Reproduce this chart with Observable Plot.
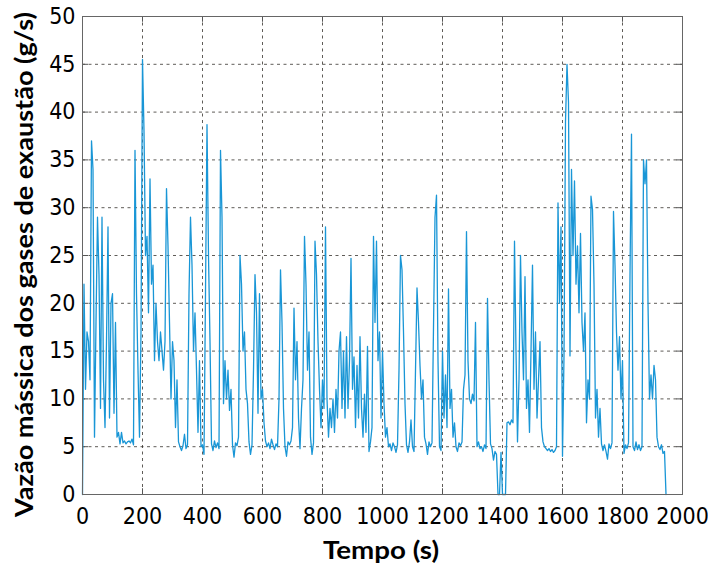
<!DOCTYPE html>
<html><head><meta charset="utf-8">
<script src="https://cdn.jsdelivr.net/npm/d3@7"></script>
<script src="https://cdn.jsdelivr.net/npm/@observablehq/plot@0.6"></script>
<style>html,body{margin:0;padding:0;background:#fff} #chart svg{display:block}</style>
</head><body><div id="chart"></div><script>
// Amostragem a cada 5 s (t = 0, 5, 10, ... s)
const passo = 5;
const vazao = [
  0, 22, 11, 17, 16, 12, 37, 34, 6, 18, 29, 23, 9, 29, 12, 7, 16, 28, 8, 20,
  21, 8.5, 18, 6, 6.5, 5.3, 6.5, 5.4, 5.6, 5.3, 5.5, 5.6, 5.4, 5.8, 5.2, 36, 21, 13, 6, 17,
  45.5, 38, 25, 27, 19, 33, 22, 24, 14, 20, 16, 14, 17, 15, 13, 16, 32, 26, 18, 10,
  16, 14, 7, 12, 5.5, 5.0, 4.6, 5.1, 6.3, 4.8, 5.2, 21, 29, 24, 15, 19, 13, 6.5, 14, 5.0,
  5.2, 4.2, 21, 38.7, 25, 16, 5.3, 4.6, 5.6, 4.9, 5.4, 4.8, 36, 29, 9.5, 14, 10, 13, 8.8, 11,
  5.2, 3.9, 5.4, 5.1, 6, 25, 22, 15, 17, 11, 9.5, 5.5, 4.2, 5.2, 13, 23, 19, 8.5, 21, 10,
  11, 7.5, 5.6, 5.0, 5.4, 4.8, 5.8, 5.2, 4.7, 5.3, 5.0, 10, 23.5, 18, 9, 5.0, 4.0, 5.5, 5.2, 5.6,
  7, 19.5, 12, 16, 8, 4.8, 9, 12, 27, 22, 13, 17, 6, 4.2, 5.4, 26.5, 23, 16, 11, 7,
  12, 9, 28, 10, 6, 9, 7, 10, 6.5, 11, 8, 15, 17, 9, 15, 8, 16.5, 9, 14, 24.7,
  11, 14.4, 7, 13.5, 8, 16.5, 9, 6, 10.5, 6.5, 15.5, 4.5, 5.5, 7, 27, 18, 26.5, 14, 17, 8,
  15, 9.5, 6, 7, 5.0, 5.3, 4.6, 5.4, 5.0, 4.4, 5.2, 13, 25, 23.5, 17, 9.5, 5.2, 4.4, 5.5, 7.8,
  5, 4.5, 13, 21.6, 18, 13.5, 10, 12, 6, 5.3, 4.2, 5.5, 5.0, 5.4, 17.5, 29, 31.3, 14, 5, 4.6,
  15, 8, 12.5, 7, 21.5, 9, 11, 6, 7.5, 5.0, 4.5, 5.4, 5.1, 5.5, 11, 12.5, 27.5, 14, 10, 9.5,
  10.5, 9.8, 18, 5, 5.5, 4.8, 5.0, 4.5, 5.2, 4.8, 20.5, 12, 5.3, 4.8, 3.6, 4.5, 4.2, 0, 0, 4.4,
  0, 0, 0, 7.5, 7.6, 7.3, 7.8, 7.5, 26.5, 15, 5.5, 12, 25, 17, 12, 22.8, 9, 12, 6.5, 15,
  24, 11, 17, 8, 12, 16, 7, 5.5, 5.0, 4.8, 4.6, 4.8, 4.5, 4.7, 4.4, 4.6, 5.0, 30.5, 20, 28,
  4, 14.5, 39, 45, 41, 14.5, 34, 25, 32.8, 22, 26, 19, 27.3, 18, 15, 19, 7.5, 12, 10, 31.2,
  29.8, 22, 8, 11, 6, 9, 5.3, 4.6, 5.2, 4.5, 3.7, 5.3, 4.8, 5.4, 29.6, 24, 17, 13, 16.5, 10,
  14, 4.3, 5.2, 4.8, 5.4, 23, 37.7, 5.0, 4.6, 5.5, 4.7, 5.2, 4.6, 5.0, 35, 32.5, 35, 20, 10, 12.5,
  10, 13.5, 12, 6, 5, 4.7, 5.2, 4.3, 4.5, 0
];
const xTicks = [0, 200, 400, 600, 800, 1000, 1200, 1400, 1600, 1800, 2000];
const yTicks = [0, 5, 10, 15, 20, 25, 30, 35, 40, 45, 50];
const xTitulo = "Tempo (s)";
const yTitulo = "Vazão mássica dos gases de exaustão (g/s)";

const dados = vazao.map((v, i) => ({t: i * passo, v}));
const gridStyle = {stroke: "#2a2520", strokeOpacity: 0.75, strokeDasharray: "3,3.5", strokeWidth: 1};
const tickStyle = {stroke: "#555", strokeWidth: 1};

const chart = Plot.plot({
  width: 708, height: 566,
  marginLeft: 82, marginRight: 26, marginTop: 16, marginBottom: 72,
  x: {domain: [0, 2000], label: null},
  y: {domain: [0, 50], label: null},
  style: {fontFamily: "'Liberation Sans Narrow', 'Arial Narrow', 'DejaVu Sans Condensed', sans-serif", fontSize: "23px", color: "#000", background: "#fff"},
  marks: [
    Plot.gridX(xTicks.slice(1, -1), gridStyle),
    Plot.gridY(yTicks.slice(1, -1), gridStyle),
    Plot.ruleX(xTicks, {x: d => d, y1: 0, y2: 0.6, ...tickStyle}),
    Plot.ruleX(xTicks, {x: d => d, y1: 50, y2: 49.4, ...tickStyle}),
    Plot.ruleY(yTicks, {y: d => d, x1: 0, x2: 20, ...tickStyle}),
    Plot.ruleY(yTicks, {y: d => d, x1: 2000, x2: 1980, ...tickStyle}),
    Plot.lineY(dados, {x: "t", y: "v", stroke: "#1996d6", strokeWidth: 1.3}),
    Plot.frame({stroke: "#666"}),
    Plot.axisX(xTicks, {tickSize: 0, tickPadding: 13, fill: "#000", tickFormat: d => String(d)}),
    Plot.axisY(yTicks, {tickSize: 0, tickPadding: 7, fill: "#000", tickFormat: d => String(d)})
  ]
});
document.getElementById("chart").appendChild(chart);
const svg = d3.select(chart);
svg.append("text")
  .attr("x", 381).attr("y", 559)
  .attr("text-anchor", "middle")
  .attr("textLength", 116).attr("lengthAdjust", "spacingAndGlyphs")
  .style("font-family", "Lato, 'Open Sans', sans-serif")
  .style("font-weight", "bold").style("font-size", "24px").style("fill", "#000")
  .text(xTitulo);
svg.append("text")
  .attr("transform", "translate(33,264.5) rotate(-90)")
  .attr("text-anchor", "middle")
  .attr("textLength", 505).attr("lengthAdjust", "spacingAndGlyphs")
  .style("font-family", "Lato, 'Open Sans', sans-serif")
  .style("font-weight", "bold").style("font-size", "24px").style("fill", "#000")
  .text(yTitulo);
</script></body></html>
